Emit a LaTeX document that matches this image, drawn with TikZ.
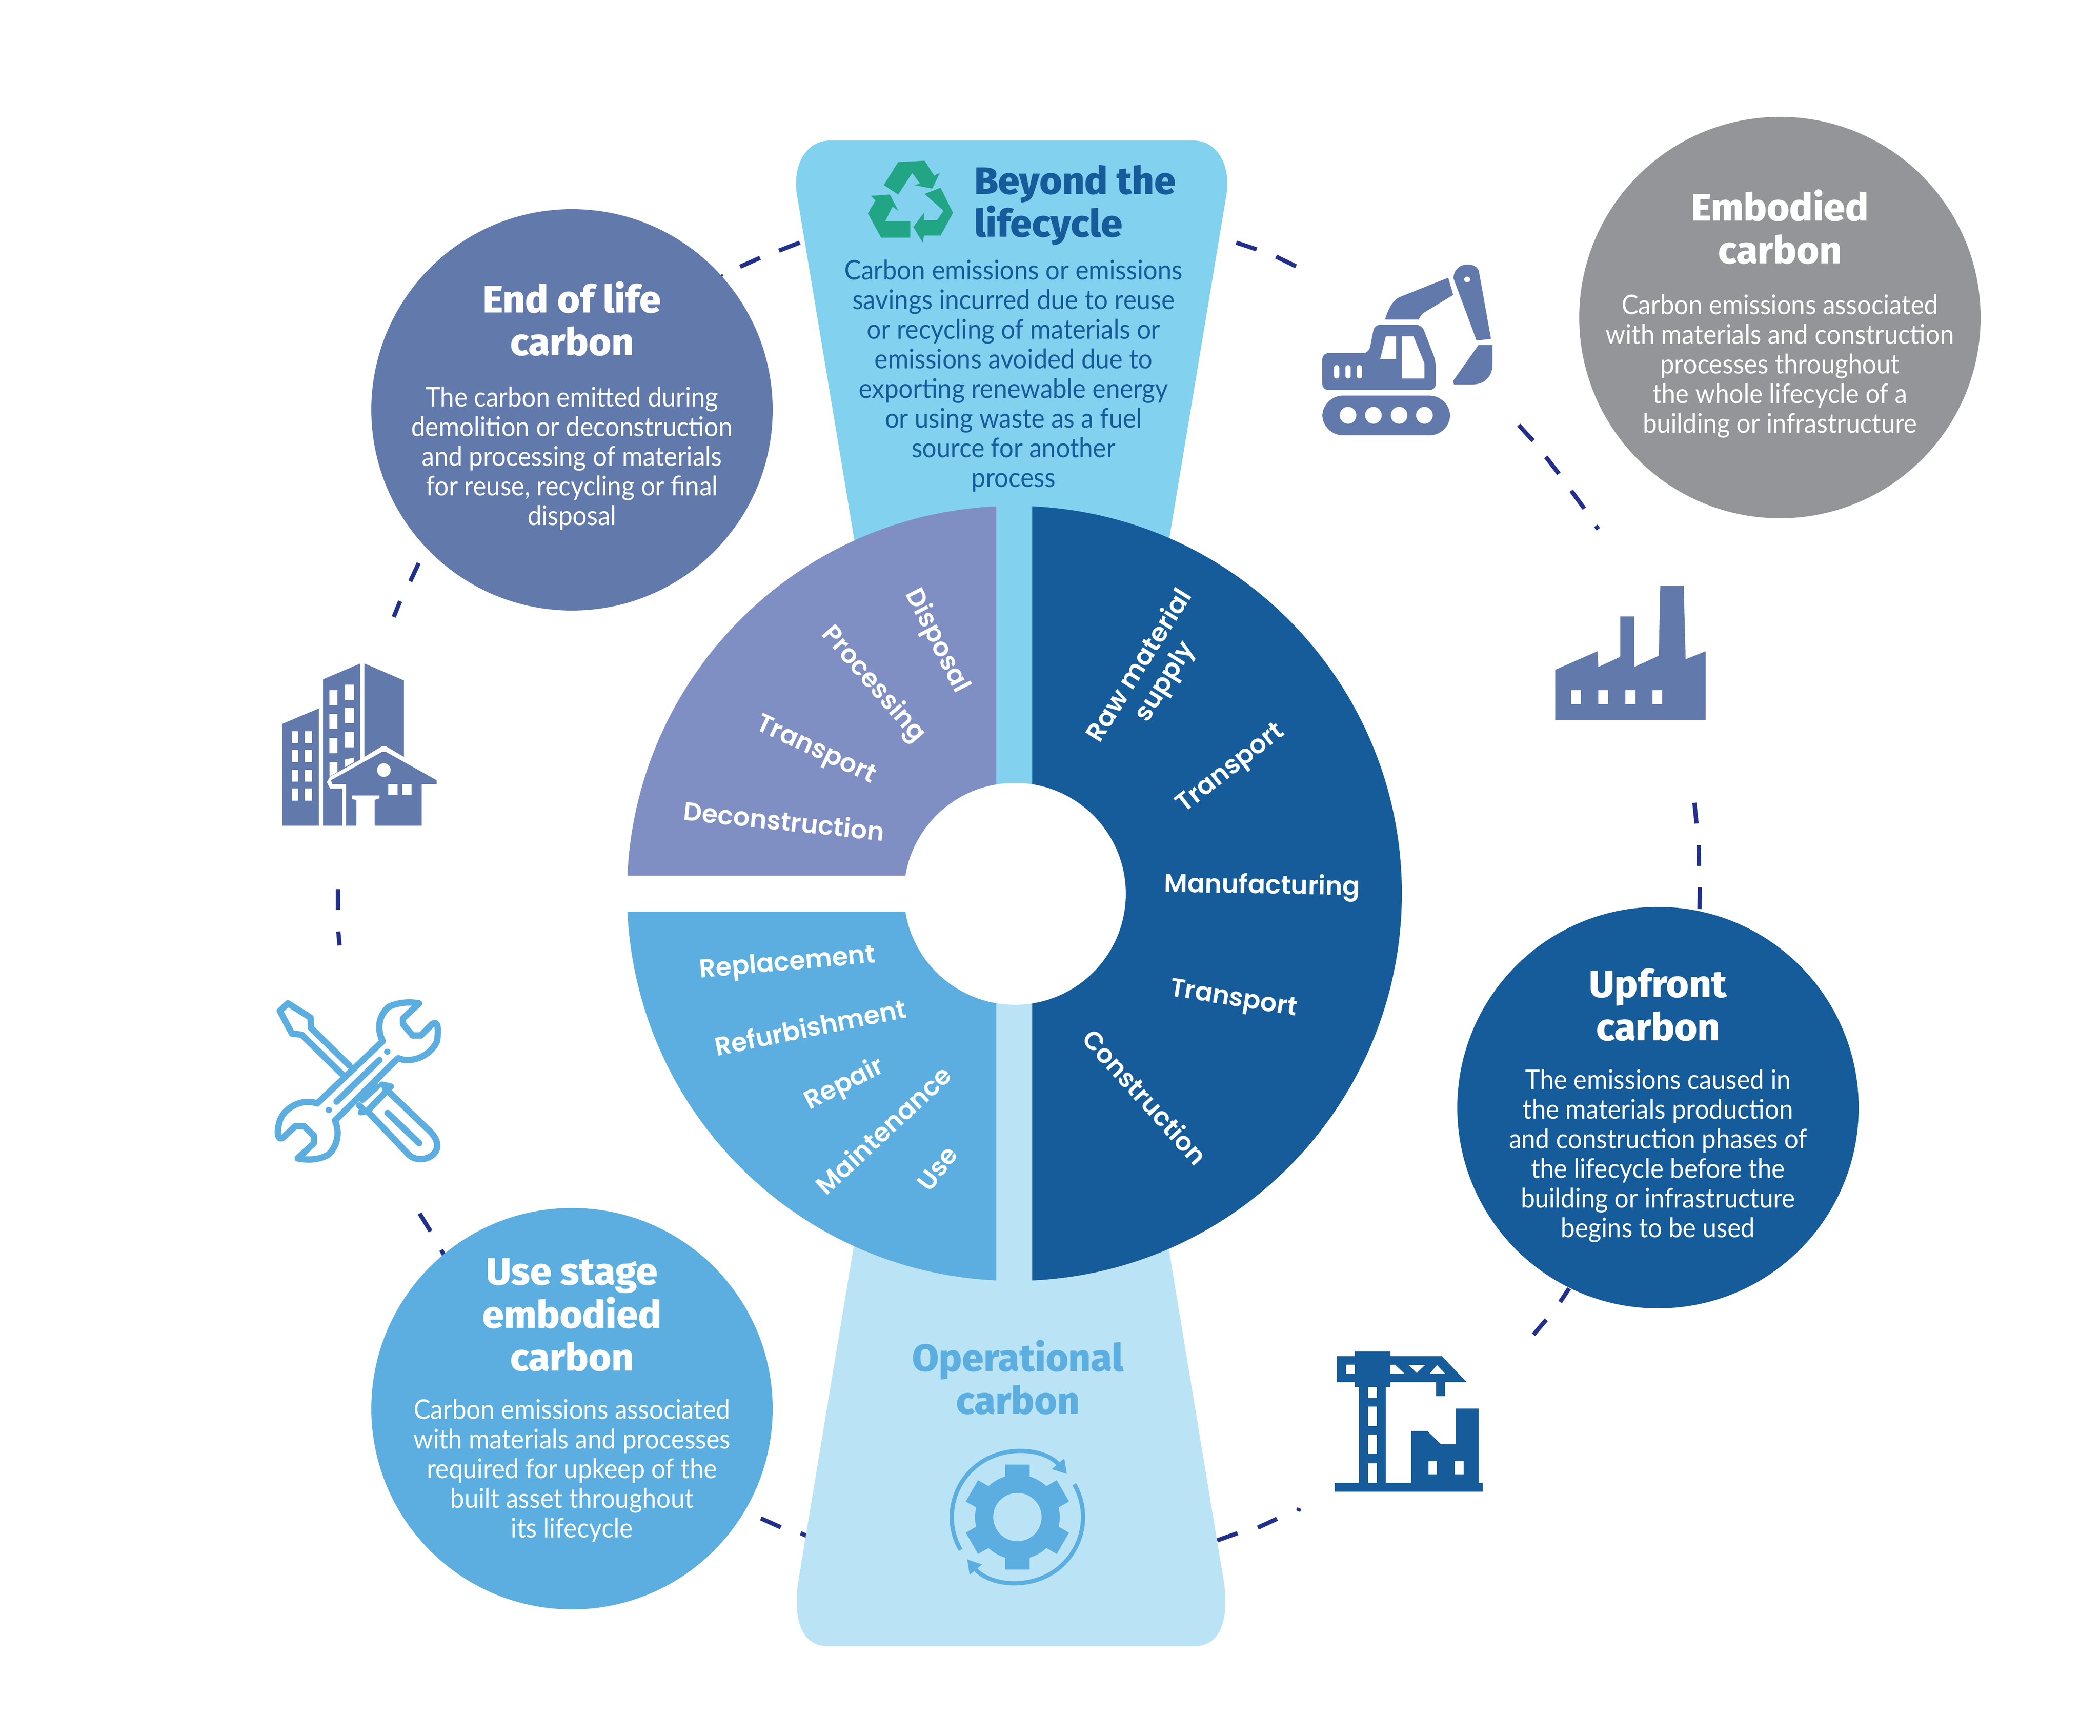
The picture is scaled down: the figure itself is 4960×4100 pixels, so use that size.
\documentclass[tikz,border=0pt]{standalone}
\usepackage{fontspec}
\usetikzlibrary{arrows.meta,positioning}
\newfontfamily\bodyfam[FakeStretch=0.93]{Lato}
\newfontfamily\headfam[FakeStretch=1.02]{Fira Sans ExtraBold}
\newfontfamily\wheelfam{Poppins SemiBold}
\definecolor{lifeblue}{HTML}{6279AB}
\definecolor{embgrey}{HTML}{939598}
\definecolor{upblue}{HTML}{165B9A}
\definecolor{useblue}{HTML}{5CAEE1}
\definecolor{beyondblue}{HTML}{81D1EF}
\definecolor{opblue}{HTML}{BAE4F5}
\definecolor{wheelmauve}{HTML}{7F8FC4}
\definecolor{recyclegreen}{HTML}{21A584}
\definecolor{dashblue}{HTML}{22308C}
\tikzset{
  bubble/.style={circle,minimum size=94.8pt,inner sep=0pt},
  headtext/.style={inner sep=0pt,align=center,text=white,font=\headfam\fontsize{9}{10.15}\selectfont},
  bodytext/.style={inner sep=0pt,align=center,text=white,font=\bodyfam\fontsize{6.4}{7}\selectfont},
  wheeltext/.style={inner sep=0pt,align=center,text=white,font=\wheelfam\fontsize{6.1}{7}\selectfont},
  dashline/.style={draw=dashblue,line width=1pt},
  toolline/.style={draw=useblue,line width=1.5pt,line join=round,line cap=round},
}
\begin{document}
\begin{tikzpicture}[x=0.1pt,y=0.1pt,yscale=-1,xscale=1]
  \useasboundingbox (0,0) rectangle (4960,4100);

  % Dashes of the big ring
  \foreach \xa/\ya/\xb/\yb in {1702/650/1705/654,1748/630/1795/609,1840/592/1889/573,
      2920/573/2968/589,3014/606/3061/629,3587/1004/3621/1041,3651/1079/3682/1119,
      3711/1159/3742/1201,3769/1242/3775/1250,4002/1896/4007/1945,4012/1996/4013/2045,
      4015/2096/4014/2147,3706/3043/3685/3075,3652/3117/3622/3152,3069/3562/3066/3569,
      3016/3587/2971/3608,2923/3621/2875/3638,1797/3586/1844/3607,1891/3621/1907/3628,
      991/2866/1017/2908,1042/2952/1049/2965,798/2100/798/2149,799/2200/802/2233,
      945/1420/930/1457,989/1330/969/1373}
    \draw[dashline] (\xa,\ya) -- (\xb,\yb);

  % Upper and lower panels
  \fill[beyondblue] (2022,1300) -- (1884,470) .. controls (1868,390) and (1905,332) .. (1960,332)
    -- (2819,332) .. controls (2874,332) and (2911,390) .. (2895,470) -- (2757,1300) -- cycle;
  \fill[opblue] (2759,2940) -- (2888,3720) .. controls (2903,3800) and (2895,3888) .. (2820,3888)
    -- (1956,3888) .. controls (1881,3888) and (1873,3800) .. (1888,3720) -- (2017,2940) -- cycle;
  \fill[beyondblue] (2353,1190) rectangle (2438,1900);
  \fill[opblue] (2353,2320) rectangle (2438,3030);

  % Wheel
  \begin{scope}
    \clip (1400,1100) rectangle (2353,2068);
    \fill[wheelmauve] (2396,2110) circle (915);
  \end{scope}
  \begin{scope}
    \clip (1400,2154) rectangle (2353,3100);
    \fill[useblue] (2396,2110) circle (915);
  \end{scope}
  \begin{scope}
    \clip (2438,1100) rectangle (3400,3100);
    \fill[upblue] (2396,2110) circle (915);
  \end{scope}
  \node[circle,fill=white,minimum size=52.4pt,inner sep=0pt] (hub) at (2397,2111) {};

  % Wheel labels
  \node[wheeltext,rotate=-63] (disposal) at (2212,1514) {Disposal};
  \node[wheeltext,rotate=-49] (processing) at (2062,1617) {Processing};
  \node[wheeltext,rotate=-25] (transportb) at (1926,1774) {Transport};
  \node[wheeltext,rotate=-6] (deconstruction) at (1852,1938) {Deconstruction};
  \node[wheeltext,rotate=5] (replacement) at (1860,2277) {Replacement};
  \node[wheeltext,rotate=11.5] (refurbishment) at (1914,2425) {Refurbishment};
  \node[wheeltext,rotate=27] (repair) at (1995,2562) {Repair};
  \node[wheeltext,rotate=43] (maintenance) at (2086,2668) {Maintenance};
  \node[wheeltext,rotate=53] (use) at (2214,2760) {Use};
  \node[wheeltext,rotate=58] (rawmaterial) at (2723,1592) {Raw material\\supply};
  \node[wheeltext,rotate=38] (transporta) at (2908,1817) {Transport};
  \node[wheeltext,rotate=-1] (manufacturing) at (2981,2095) {Manufacturing};
  \node[wheeltext,rotate=-9] (transportc) at (2913,2362) {Transport};
  \node[wheeltext,rotate=-48] (construction) at (2705,2590) {Construction};

  % Circles
  \node[bubble,fill=lifeblue] (endlife) at (1351,968) {};
  \node[bubble,fill=embgrey] (embodied) at (4204,750) {};
  \node[bubble,fill=upblue] (upfront) at (3916,2616) {};
  \node[bubble,fill=useblue] (usestage) at (1351,3327) {};

  % Text Node
  \node[headtext] (endlifehead) at (1351,753) {End of life\\carbon};
  \node[bodytext] (endlifebody) at (1351,1082) {The carbon emitted during\\demolition or deconstruction\\and processing of materials\\for reuse, recycling or final\\disposal};
  % Text Node
  \node[headtext] (embodiedhead) at (4204,536) {Embodied\\carbon};
  \node[bodytext] (embodiedbody) at (4204,865) {Carbon emissions associated\\with materials and construction\\processes throughout\\the whole lifecycle of a\\building or infrastructure};
  % Text Node
  \node[headtext] (upfronthead) at (3916,2373) {Upfront\\carbon};
  \node[bodytext] (upfrontbody) at (3916,2730) {The emissions caused in\\the materials production\\and construction phases of\\the lifecycle before the\\building or infrastructure\\begins to be used};
  % Text Node
  \node[headtext] (usehead) at (1351,3106) {Use stage\\embodied\\carbon};
  \node[bodytext] (usebody) at (1351,3473) {Carbon emissions associated\\with materials and processes\\required for upkeep of the\\built asset throughout\\its lifecycle};
  % Text Node
  \node[headtext,text=upblue,align=left,anchor=west] (beyondhead) at (2299,485) {Beyond the\\lifecycle};
  \node[bodytext,text=upblue] (beyondbody) at (2394,887) {Carbon emissions or emissions\\savings incurred due to reuse\\or recycling of materials or\\emissions avoided due to\\exporting renewable energy\\or using waste as a fuel\\source for another\\process};
  % Text Node
  \node[headtext,text=useblue] (ophead) at (2404,3253) {Operational\\carbon};

  % Recycling arrows
  \begin{scope}[shift={(1800,300)},x=0.08929pt,y=0.06378pt]
    \fill[recyclegreen] (322,215) -- (360,130) -- (430,125) -- (455,180) -- (470,170) -- (450,228)
      -- (402,215) -- (418,210) -- (397,170) -- (360,250) -- cycle;
    \fill[recyclegreen] (430,248) -- (472,225) -- (505,318) -- (472,402) -- (428,402) -- (425,428)
      -- (400,370) -- (428,318) -- (428,345) -- (463,345) -- (480,310) -- cycle;
    \fill[recyclegreen] (288,255) -- (338,250) -- (360,310) -- (345,295) -- (325,350) -- (392,350)
      -- (392,410) -- (315,410) -- (280,320) -- (300,272) -- cycle;
  \end{scope}

  % Excavator and factory
  \begin{scope}[shift={(2800,500)},x=0.08929pt,y=0.08292pt]
    \fill[lifeblue,rounded corners=4.9pt] (362,524) rectangle (700,637);
    \foreach \wx in {430,497,565,632}
      \fill[white] (\wx,580) ellipse [x radius=22,y radius=24];
    \fill[lifeblue,rounded corners=1.4pt] (362,403) -- (485,403) -- (500,322) -- (625,322)
      -- (662,425) -- (662,508) -- (362,508) -- cycle;
    \fill[white] (530,355) -- (557,355) -- (557,420) -- (515,420) -- cycle;
    \fill[white] (572,355) -- (603,355) -- (632,432) -- (632,475) -- (572,475) -- cycle;
    \foreach \wx in {393,423,453}
      \fill[white,rounded corners=0.6pt] (\wx,437) rectangle ++(14,38);
    \fill[lifeblue] (528,307) .. controls (535,280) and (548,252) .. (567,243) -- (695,188)
      -- (708,237) -- (630,288) .. controls (624,293) and (620,300) .. (617,307) -- cycle;
    \fill[lifeblue] (709,190) .. controls (709,140) and (775,140) .. (777,175) -- (808,362)
      -- (770,367) -- cycle;
    \fill[white] (745,193) ellipse [x radius=8,y radius=8];
    \fill[lifeblue] (775,380) -- (812,380) -- (812,435) .. controls (812,470) and (790,492) .. (760,492)
      -- (710,492) -- (708,482) -- cycle;
    % factory
    \fill[lifeblue] (978,1305) -- (1090,1252) -- (1092,1297) -- (1150,1268) -- (1150,1153)
      -- (1187,1153) -- (1187,1297) -- (1252,1265) -- (1256,1066) -- (1318,1066) -- (1323,1275)
      -- (1376,1252) -- (1376,1448) -- (978,1448) -- cycle;
    \foreach \wx in {1020,1092,1164,1235}
      \fill[white] (\wx,1363) rectangle ++(26,40);
  \end{scope}

  % Buildings and tools
  \begin{scope}[shift={(550,1450)},x=0.03827pt,y=0.08929pt]
    \fill[lifeblue] (304,291) -- (531,250) -- (531,560) -- (304,560) -- cycle;
    \foreach \wy in {310,360,412,462}{
      \fill[white] (365,\wy) rectangle ++(37,32);
      \fill[white] (443,\wy) rectangle ++(45,32);
    }
    \fill[lifeblue] (557,173) -- (787,131) -- (787,385) -- (600,430) -- (580,445) -- (600,462)
      -- (675,462) -- (675,560) -- (557,560) -- cycle;
    \foreach \wy in {202,264,328}{
      \fill[white] (597,\wy) rectangle ++(48,40);
      \fill[white] (693,\wy-15) rectangle ++(54,40);
    }
    \fill[white] (597,392) -- (645,392) -- (645,418) -- (597,430) -- cycle;
    \fill[white] (693,385) -- (747,380) -- (747,392) -- (693,405) -- cycle;
    \fill[lifeblue] (812,131) -- (1056,176) -- (1056,378) -- (945,350) -- (920,350) -- (812,378) -- cycle;
    \fill[lifeblue] (605,440) -- (920,365) -- (945,365) -- (1258,440) -- (1258,450) -- (1165,450)
      -- (1165,560) -- (875,560) -- (875,492) -- (905,488) -- (905,480) -- (735,480) -- (735,490)
      -- (762,492) -- (762,560) -- (699,560) -- (699,450) -- (615,450) -- cycle;
    \fill[white] (932,413) ellipse [x radius=42,y radius=18];
    \fill[white] (960,450) rectangle (1017,478);
    \fill[white] (1045,450) rectangle (1103,478);
    % tools
    \draw[toolline] (290,1050) -- (340,1030) -- (480,1068) -- (482,1095) -- (720,1195);
    \draw[toolline] (290,1050) -- (365,1110) -- (425,1113) -- (675,1218);
    \draw[toolline] (940,1255) -- (1220,1370) .. controls (1275,1395) and (1275,1420) .. (1220,1435)
      .. controls (1180,1445) and (1120,1445) .. (1085,1430) -- (830,1315);
    \draw[toolline] (955,1320) -- (1150,1400);
    \draw[toolline] (790,1318) -- (830,1315) -- (975,1250) -- (920,1245);
    \draw[toolline] (780,1300) -- (815,1315);
    \draw[toolline] (890,1250) -- (800,1285);
    \draw[toolline] (925,1130) .. controls (890,1100) and (895,1065) .. (960,1040)
      .. controls (1010,1028) and (1090,1025) .. (1150,1030) -- (1050,1070) -- (1050,1085)
      -- (1110,1115) -- (1160,1115) -- (1230,1085) .. controls (1265,1075) and (1272,1095) .. (1260,1130)
      .. controls (1220,1170) and (1100,1190) .. (1020,1175) -- (630,1340)
      .. controls (665,1375) and (640,1410) .. (590,1430) .. controls (530,1445) and (460,1445) .. (400,1440)
      -- (500,1400) -- (500,1380) -- (440,1355) -- (385,1355) -- (310,1385)
      .. controls (275,1395) and (268,1370) .. (290,1340) .. controls (320,1305) and (430,1280) .. (520,1295)
      -- cycle;
    \draw[toolline] (640,1290) -- (905,1180);
    \fill[useblue] (953,1158) ellipse [x radius=20,y radius=8];
    \fill[useblue] (592,1312) ellipse [x radius=20,y radius=8];
  \end{scope}

  % Crane
  \begin{scope}[shift={(2150,3100)},x=0.0957pt,y=0.05102pt]
    \fill[upblue] (1048,788) rectangle (1413,829);
    \fill[upblue] (1108,345) rectangle (1173,788);
    \foreach \ya/\yb in {345/395,435/525,565/655,697/788}
      \fill[white] (1130,\ya) rectangle (1152,\yb);
    \fill[upblue] (1053,202) -- (1097,202) -- (1097,180) -- (1185,180) -- (1185,202) -- (1312,202)
      -- (1373,322) -- (1320,322) -- (1320,387) -- (1298,387) -- (1298,322) -- (1185,322)
      -- (1185,345) -- (1097,345) -- (1097,322) -- (1053,322) -- cycle;
    \fill[white] (1075,242) rectangle (1097,283);
    \fill[white] (1185,242) -- (1197,242) -- (1220,283) -- (1185,283) -- cycle;
    \fill[white] (1230,243) -- (1270,243) -- (1250,280) -- cycle;
    \fill[white] (1300,243) -- (1320,283) -- (1282,283) -- cycle;
    \fill[upblue] (1236,548) -- (1276,548) -- (1310,610) -- (1347,610) -- (1347,444) -- (1403,444)
      -- (1403,788) -- (1236,788) -- cycle;
    \fill[white] (1279,687) rectangle (1300,748);
    \fill[white] (1344,687) rectangle (1366,748);
  \end{scope}

  % Gear
  \begin{scope}[shift={(2403,3583)}]
    \foreach \ang in {30,90,...,330}
      \fill[useblue,rotate=\ang] (90,-29) -- (124,-29) -- (124,29) -- (90,29) -- cycle;
    \fill[useblue] (0,0) circle (100);
    \fill[opblue] (0,0) circle (57);
    \draw[useblue,line width=1pt,-{Triangle[length=3.2pt,width=3.6pt]}] (-30:155) arc (-30:140:155);
    \draw[useblue,line width=1pt,-{Triangle[length=3.2pt,width=3.6pt]}] (150:155) arc (150:319:155);
  \end{scope}
\end{tikzpicture}
\end{document}
